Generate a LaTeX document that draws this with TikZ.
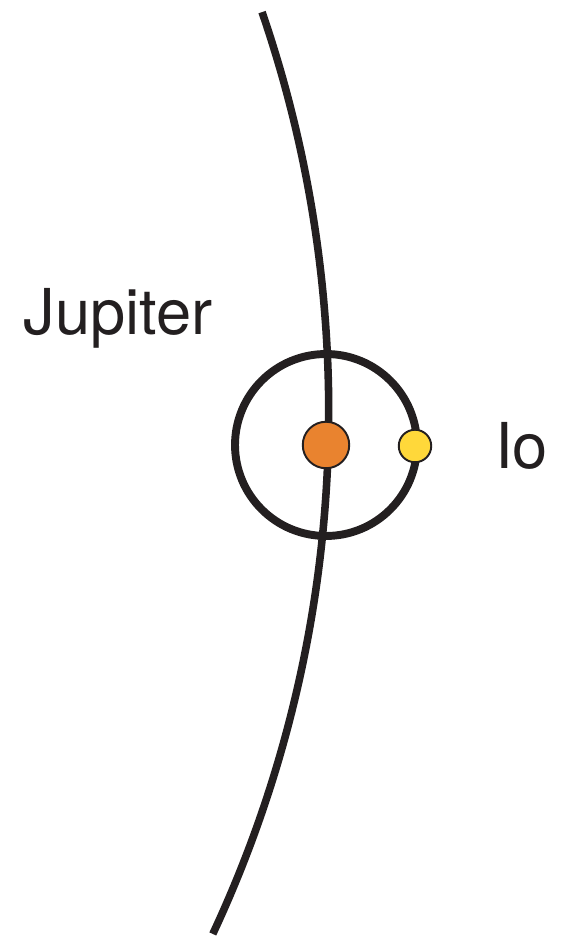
\documentclass[tikz,border=0pt]{standalone}
\usepackage{fontspec}
\setmainfont{TeX Gyre Heros}
\usetikzlibrary{positioning}
\definecolor{inkdark}{HTML}{231F20}
\definecolor{jupiterorange}{HTML}{E9832F}
\definecolor{ioyellow}{HTML}{FFD83A}

\begin{document}
\begin{tikzpicture}[x=0.02cm, y=0.02cm,
  every node/.style={font=\fontsize{36}{40}\selectfont, text=inkdark, inner sep=0pt},
  track/.style={draw=inkdark, line width=4.3pt},
  body/.style={circle, draw=inkdark, line width=1.1pt}]
\useasboundingbox (0,0) rectangle (565,938);
% path of Jupiter around the Sun
\coordinate (sunc) at (-904,526);
\draw[track] (sunc) ++(18.93:24.66cm) arc[start angle=18.93, end angle=-25.05, radius=24.66cm];
% Io's orbit round Jupiter
\coordinate (jc) at (326,493);
\draw[track, line width=4.5pt] (jc) circle[radius=1.82cm];
\node[body, fill=jupiterorange, minimum size=0.93cm] (jup) at (jc) {};
\node[body, fill=ioyellow, minimum size=0.65cm] (io) at (415,492) {};
\node (jlab) at (118,620) {Jupiter};
\node[right=12.5mm of io] (iolab) {Io};
\end{tikzpicture}
\end{document}
